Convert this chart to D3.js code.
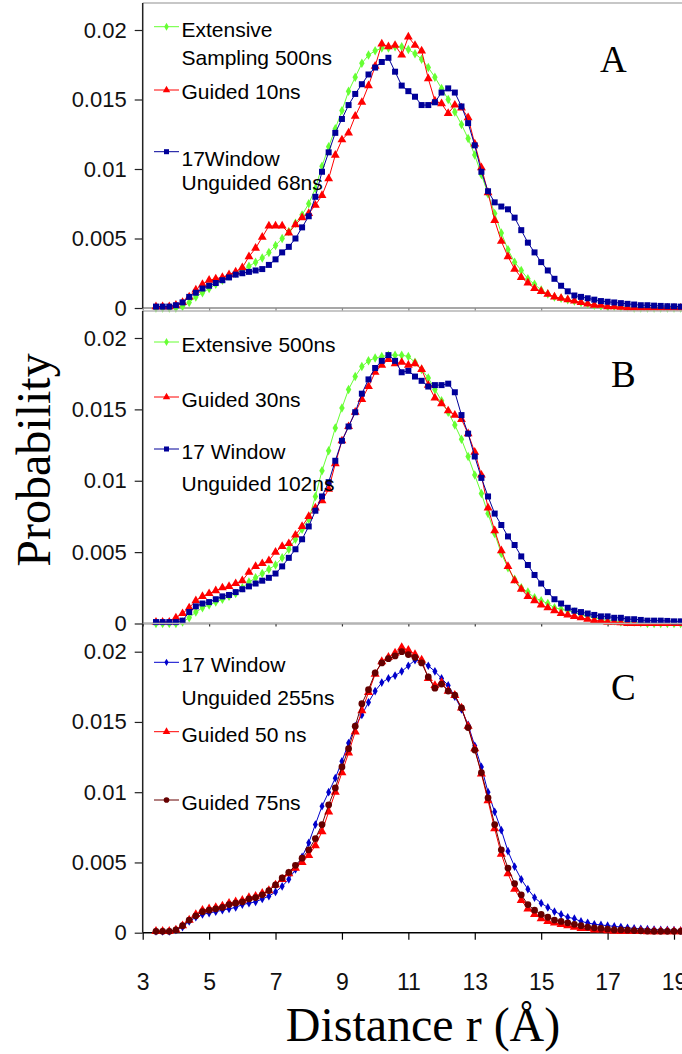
<!DOCTYPE html>
<html>
<head>
<meta charset="utf-8">
<script src="https://cdn.jsdelivr.net/npm/d3@7"></script>
<style>
  body { margin: 0; background: #fff; }
  svg { display: block; }
</style>
</head>
<body>
<div id="chart"></div>
<script>
// distance grid r (Å)
const distance = [
  3.4, 3.6, 3.8, 4.0, 4.2, 4.4, 4.6, 4.8, 5.0, 5.2,
  5.4, 5.6, 5.8, 6.0, 6.2, 6.4, 6.6, 6.8, 7.0, 7.2,
  7.4, 7.6, 7.8, 8.0, 8.2, 8.4, 8.6, 8.8, 9.0, 9.2,
  9.4, 9.6, 9.8, 10.0, 10.2, 10.4, 10.6, 10.8, 11.0, 11.2,
  11.4, 11.6, 11.8, 12.0, 12.2, 12.4, 12.6, 12.8, 13.0, 13.2,
  13.4, 13.6, 13.8, 14.0, 14.2, 14.4, 14.6, 14.8, 15.0, 15.2,
  15.4, 15.6, 15.8, 16.0, 16.2, 16.4, 16.6, 16.8, 17.0, 17.2,
  17.4, 17.6, 17.8, 18.0, 18.2, 18.4, 18.6, 18.8, 19.0, 19.2,
  19.4
];

// panel A
const extensive500A = [
  0, 0, 0, 0, 0.0001, 0.0004, 0.0008, 0.0011, 0.0014, 0.0017,
  0.0020, 0.0023, 0.0025, 0.0027, 0.0030, 0.0033, 0.0036, 0.0040, 0.0045, 0.0050,
  0.0055, 0.0061, 0.0067, 0.0075, 0.0086, 0.0102, 0.0116, 0.0129, 0.0142, 0.0156,
  0.0166, 0.0176, 0.0182, 0.0185, 0.0187, 0.0187, 0.0188, 0.0188, 0.0186, 0.0183,
  0.0179, 0.0173, 0.0166, 0.0158, 0.0150, 0.0141, 0.0132, 0.0122, 0.0110, 0.0096,
  0.0082, 0.0068, 0.0054, 0.0042, 0.0033, 0.0027, 0.0021, 0.0017, 0.0013, 0.0010,
  0.0008, 0.0007, 0.0006, 0.0005, 0.0004, 0.0003, 0.0002, 0.00015, 0.0001, 0.0001,
  0.00005, 0.00005, 0, 0, 0, 0, 0, 0, 0, 0,
  0
];
const guided10A = [
  0.0001, 0.0001, 0.0001, 0.0002, 0.0004, 0.0008, 0.0013, 0.0017, 0.0020, 0.0021,
  0.0022, 0.0024, 0.0026, 0.0029, 0.0037, 0.0043, 0.0051, 0.0059, 0.0059, 0.0059,
  0.0054, 0.0060, 0.0065, 0.0068, 0.0074, 0.0081, 0.0093, 0.0110, 0.0121, 0.0126,
  0.0138, 0.0148, 0.0160, 0.0174, 0.0190, 0.0188, 0.0189, 0.0182, 0.0195, 0.0189,
  0.0185, 0.0165, 0.0149, 0.0147, 0.0140, 0.0146, 0.0144, 0.0137, 0.0118, 0.0101,
  0.0083, 0.0063, 0.0048, 0.0037, 0.0028, 0.0022, 0.0018, 0.0014, 0.0012, 0.0010,
  0.0008, 0.0007, 0.0006, 0.0005, 0.0004, 0.0003, 0.0002, 0.0002, 0.0001, 0.0001,
  0.00005, 0, 0, 0, 0, 0, 0, 0, 0, 0,
  0
];
const window68A = [
  0.0001, 0.0001, 0.0001, 0.0002, 0.0004, 0.0008, 0.0011, 0.0014, 0.0016, 0.0018,
  0.0020, 0.0022, 0.0024, 0.0025, 0.0026, 0.0027, 0.0028, 0.0031, 0.0035, 0.0040,
  0.0044, 0.0050, 0.0058, 0.0066, 0.0080, 0.0098, 0.0112, 0.0126, 0.0136, 0.0146,
  0.0154, 0.0161, 0.0168, 0.0173, 0.0177, 0.0180, 0.0170, 0.0160, 0.0156, 0.0152,
  0.0146, 0.0146, 0.0148, 0.0155, 0.0158, 0.0155, 0.0145, 0.0133, 0.0117, 0.0098,
  0.0084, 0.0076, 0.0073, 0.0071, 0.0065, 0.0056, 0.0047, 0.0040, 0.0033, 0.0027,
  0.0021, 0.0016, 0.0012, 0.0009, 0.0008, 0.0007, 0.0006, 0.0005, 0.00045, 0.0004,
  0.00035, 0.0003, 0.00025, 0.0002, 0.0002, 0.00017, 0.00015, 0.00013, 0.00012, 0.0001,
  0.0001
];

// panel B
const extensive500B = [
  0, 0, 0, 0, 0.0001, 0.0004, 0.0008, 0.0011, 0.0013, 0.0015,
  0.0017, 0.0019, 0.0021, 0.0025, 0.0029, 0.0032, 0.0035, 0.0038, 0.0041, 0.0046,
  0.0052, 0.0059, 0.0066, 0.0073, 0.0089, 0.0107, 0.0121, 0.0137, 0.0151, 0.0164,
  0.0173, 0.0180, 0.0184, 0.0186, 0.0187, 0.0188, 0.0188, 0.0188, 0.0187, 0.0183,
  0.0178, 0.0172, 0.0164, 0.0156, 0.0148, 0.0139, 0.0129, 0.0117, 0.0104, 0.0091,
  0.0077, 0.0063, 0.0049, 0.0039, 0.0031, 0.0025, 0.0022, 0.0018, 0.0016, 0.0014,
  0.0011, 0.0010, 0.0009, 0.0008, 0.0006, 0.0005, 0.0004, 0.0003, 0.0002, 0.0002,
  0.0001, 0.0001, 0.0001, 0.00005, 0, 0, 0, 0, 0, 0,
  0
];
const guided30B = [
  0.0001, 0.0001, 0.0001, 0.0004, 0.0007, 0.0011, 0.0016, 0.0019, 0.0021, 0.0023,
  0.0025, 0.0026, 0.0028, 0.0030, 0.0036, 0.0040, 0.0042, 0.0044, 0.0050, 0.0054,
  0.0056, 0.0062, 0.0068, 0.0075, 0.0081, 0.0086, 0.0094, 0.0112, 0.0128, 0.0138,
  0.0148, 0.0157, 0.0166, 0.0176, 0.0181, 0.0185, 0.0182, 0.0183, 0.0181, 0.0182,
  0.0178, 0.0167, 0.0158, 0.0154, 0.0149, 0.0146, 0.0143, 0.0133, 0.0120, 0.0104,
  0.0081, 0.0065, 0.0051, 0.0040, 0.0030, 0.0024, 0.0019, 0.0016, 0.0013, 0.0011,
  0.0009, 0.0007, 0.0006, 0.0005, 0.0004, 0.0003, 0.0002, 0.0002, 0.0001, 0.0001,
  0.00005, 0, 0, 0, 0, 0, 0, 0, 0, 0,
  0
];
const window102B = [
  0.0001, 0.0001, 0.0001, 0.0001, 0.0002, 0.0008, 0.0012, 0.0014, 0.0015, 0.0017,
  0.0019, 0.0020, 0.0022, 0.0024, 0.0026, 0.0028, 0.0030, 0.0032, 0.0035, 0.0040,
  0.0046, 0.0052, 0.0059, 0.0068, 0.0079, 0.0089, 0.0099, 0.0114, 0.0128, 0.0138,
  0.0148, 0.0161, 0.0171, 0.0179, 0.0184, 0.0188, 0.0184, 0.0176, 0.0177, 0.0173,
  0.0170, 0.0166, 0.0167, 0.0167, 0.0168, 0.0162, 0.0146, 0.0133, 0.0117, 0.0102,
  0.0089, 0.0077, 0.0069, 0.0061, 0.0055, 0.0047, 0.0041, 0.0034, 0.0028, 0.0022,
  0.0017, 0.0014, 0.0011, 0.0009, 0.0008, 0.0007, 0.0006, 0.0005, 0.0005, 0.0004,
  0.0004, 0.0003, 0.0003, 0.00025, 0.0002, 0.0002, 0.0002, 0.00018, 0.00015, 0.00015,
  0.0001
];

// panel C
const window255C = [
  0.0001, 0.0001, 0.0001, 0.0002, 0.0004, 0.0008, 0.0011, 0.0013, 0.0014, 0.0015,
  0.0016, 0.0017, 0.0018, 0.0020, 0.0021, 0.0022, 0.0024, 0.0026, 0.0029, 0.0033,
  0.0038, 0.0045, 0.0054, 0.0064, 0.0077, 0.0090, 0.0100, 0.0110, 0.0122, 0.0135,
  0.0147, 0.0155, 0.0164, 0.0172, 0.0178, 0.0181, 0.0183, 0.0186, 0.0190, 0.0194,
  0.0193, 0.0190, 0.0186, 0.0181, 0.0176, 0.0168, 0.0159, 0.0148, 0.0133, 0.0118,
  0.0100, 0.0086, 0.0073, 0.0058, 0.0047, 0.0038, 0.0031, 0.0025, 0.0021, 0.0018,
  0.0015, 0.0013, 0.0011, 0.0010, 0.0008, 0.0007, 0.0006, 0.00055, 0.0005, 0.00045,
  0.0004, 0.00035, 0.0003, 0.00028, 0.00025, 0.00022, 0.0002, 0.0002, 0.00018, 0.00015,
  0.00015
];
const guided50C = [
  0.0001, 0.0001, 0.0001, 0.0002, 0.0005, 0.0009, 0.0013, 0.0016, 0.0017, 0.0018,
  0.0019, 0.0021, 0.0022, 0.0023, 0.0025, 0.0026, 0.0028, 0.0030, 0.0034, 0.0038,
  0.0042, 0.0046, 0.0050, 0.0055, 0.0062, 0.0072, 0.0086, 0.0100, 0.0114, 0.0128,
  0.0143, 0.0158, 0.0171, 0.0184, 0.0193, 0.0196, 0.0199, 0.0203, 0.0201, 0.0198,
  0.0194, 0.0181, 0.0176, 0.0178, 0.0172, 0.0169, 0.0160, 0.0147, 0.0131, 0.0113,
  0.0094, 0.0074, 0.0056, 0.0042, 0.0031, 0.0023, 0.0017, 0.0013, 0.0010, 0.0008,
  0.0007, 0.0006, 0.0005, 0.0004, 0.0003, 0.0003, 0.0002, 0.0002, 0.00015, 0.00012,
  0.0001, 0.0001, 0.0001, 0.0001, 0.00008, 0.00008, 0.00008, 0.00008, 0.00008, 0.00008,
  0.00008
];
const guided75C = [
  0.0001, 0.0001, 0.0001, 0.0002, 0.0005, 0.0009, 0.0012, 0.0015, 0.0016, 0.0017,
  0.0018, 0.0020, 0.0021, 0.0022, 0.0024, 0.0025, 0.0027, 0.0030, 0.0034, 0.0039,
  0.0043, 0.0048, 0.0053, 0.0059, 0.0067, 0.0077, 0.0091, 0.0103, 0.0118, 0.0131,
  0.0147, 0.0163, 0.0173, 0.0185, 0.0192, 0.0195, 0.0197, 0.0200, 0.0198, 0.0196,
  0.0192, 0.0182, 0.0174, 0.0177, 0.0172, 0.0169, 0.0160, 0.0146, 0.0130, 0.0114,
  0.0096, 0.0077, 0.0059, 0.0046, 0.0035, 0.0027, 0.0020, 0.0016, 0.0013, 0.0011,
  0.0009, 0.0008, 0.0007, 0.0006, 0.0005, 0.0004, 0.00035, 0.0003, 0.00025, 0.0002,
  0.0002, 0.00018, 0.00015, 0.00013, 0.00012, 0.0001, 0.0001, 0.0001, 0.0001, 0.0001,
  0.0001
];

const yTicks = [0, 0.005, 0.01, 0.015, 0.02];
const xTicks = [3, 5, 7, 9, 11, 13, 15, 17, 19];

const width = 682;
const height = 1054;
const sansFont = "'Liberation Sans', Arial, sans-serif";
const serifFont = "'Liberation Serif', 'Times New Roman', serif";

const svg = d3.select("#chart")
  .append("svg")
  .attr("width", width)
  .attr("height", height);

const x = d3.scaleLinear().domain([3, 19]).range([142.7, 674]);

const GREEN = "#66ff33", RED = "#ff0000", NAVY = "#000099", BLUE = "#0000cc", MAROON = "#660000";

const panels = [
  {
    letter: "A", top: 3, zeroY: 308, topTickY: 30, axisColor: "#8a8a8a", letterPos: [600, 72],
    series: [
      { values: extensive500A, color: GREEN, symbol: d3.symbolDiamond, size: 26, label: ["Extensive", "Sampling 500ns"], legendY: 26.7, textY: [36.7, 64.5] },
      { values: guided10A, color: RED, symbol: d3.symbolTriangle, size: 34, label: ["Guided 10ns"], legendY: 90, textY: [98.5] },
      { values: window68A, color: NAVY, symbol: d3.symbolSquare, size: 36, label: ["17Window", "Unguided 68ns"], legendY: 151.7, textY: [166, 190] }
    ]
  },
  {
    letter: "B", top: 311, zeroY: 623.5, topTickY: 338, axisColor: "#333", letterPos: [611, 387],
    series: [
      { values: extensive500B, color: GREEN, symbol: d3.symbolDiamond, size: 26, label: ["Extensive 500ns"], legendY: 342, textY: [351.7] },
      { values: guided30B, color: RED, symbol: d3.symbolTriangle, size: 34, label: ["Guided 30ns"], legendY: 397, textY: [406.7] },
      { values: window102B, color: NAVY, symbol: d3.symbolSquare, size: 36, label: ["17 Window", "Unguided 102ns"], legendY: 449, textY: [459, 490.7] }
    ]
  },
  {
    letter: "C", top: 623.5, zeroY: 932.7, topTickY: 651.7, axisColor: "#000", letterPos: [611, 700], bottom: true,
    series: [
      { values: window255C, color: BLUE, symbol: d3.symbolDiamond, size: 22, label: ["17 Window", "Unguided 255ns"], legendY: 662.3, textY: [672.3, 705] },
      { values: guided50C, color: RED, symbol: d3.symbolTriangle, size: 36, label: ["Guided 50 ns"], legendY: 731.7, textY: [741.7] },
      { values: guided75C, color: MAROON, symbol: d3.symbolCircle, size: 36, label: ["Guided 75ns"], legendY: 800, textY: [810] }
    ]
  }
];

panels.forEach((p) => {
  const y = d3.scaleLinear().domain([0, 0.02]).range([p.zeroY, p.topTickY]);
  const g = svg.append("g");

  // top border of plot area
  g.append("line")
    .attr("x1", x(3)).attr("x2", width)
    .attr("y1", p.top).attr("y2", p.top)
    .attr("stroke", "#b4b4b4").attr("stroke-width", 1.3);

  // x axis
  const xAxis = d3.axisBottom(x)
    .tickValues(xTicks)
    .tickSizeOuter(0)
    .tickSize(p.bottom ? 7 : 3)
    .tickPadding(34)
    .tickFormat(p.bottom ? d3.format("d") : "");
  const gx = g.append("g")
    .attr("transform", `translate(0,${p.zeroY})`)
    .call(xAxis);
  gx.select(".domain").attr("stroke", p.axisColor).attr("stroke-width", 1.5)
    .attr("d", `M${x(3)},0H${width}`);
  gx.selectAll(".tick line").attr("stroke", p.axisColor).attr("stroke-width", 1.2);
  gx.selectAll("text")
    .attr("font-family", sansFont).attr("font-size", 23).attr("fill", "#111");

  // y axis
  const yAxis = d3.axisLeft(y)
    .tickValues(yTicks)
    .tickSizeOuter(0)
    .tickSize(8)
    .tickPadding(8)
    .tickFormat((d) => String(+d.toFixed(3)));
  const gy = g.append("g")
    .attr("transform", `translate(${x(3)},0)`)
    .call(yAxis);
  gy.select(".domain").attr("stroke", "#222").attr("stroke-width", 1.5)
    .attr("d", `M0,${p.top}V${p.zeroY}`);
  gy.selectAll(".tick line").attr("stroke", "#222").attr("stroke-width", 1.2);
  gy.selectAll("text")
    .attr("font-family", sansFont).attr("font-size", 22).attr("fill", "#111");

  // series
  p.series.forEach((s) => {
    const pts = distance.map((r, i) => [r, s.values[i]]);
    const line = d3.line().x((d) => x(d[0])).y((d) => y(d[1]));
    g.append("path")
      .datum(pts)
      .attr("d", line)
      .attr("fill", "none")
      .attr("stroke", s.color)
      .attr("stroke-width", 1);
    g.append("g")
      .selectAll("path")
      .data(pts)
      .join("path")
      .attr("transform", (d) => `translate(${x(d[0])},${y(d[1])})`)
      .attr("d", d3.symbol().type(s.symbol).size(s.size))
      .attr("fill", s.color);
  });

  // legend
  p.series.forEach((s) => {
    const lg = g.append("g");
    lg.append("line")
      .attr("x1", 154).attr("x2", 179)
      .attr("y1", s.legendY).attr("y2", s.legendY)
      .attr("stroke", s.color).attr("stroke-width", 1);
    lg.append("path")
      .attr("transform", `translate(166.5,${s.legendY})`)
      .attr("d", d3.symbol().type(s.symbol).size(s.size * 0.7))
      .attr("fill", s.color);
    s.label.forEach((t, i) => {
      lg.append("text")
        .attr("x", 181.5).attr("y", s.textY[i])
        .attr("font-family", sansFont).attr("font-size", 21)
        .attr("fill", "#000")
        .text(t);
    });
  });

  // panel letter
  g.append("text")
    .attr("x", p.letterPos[0]).attr("y", p.letterPos[1])
    .attr("font-family", serifFont).attr("font-size", 37)
    .attr("fill", "#000")
    .text(p.letter);
});

// axis titles
svg.append("text")
  .attr("transform", "translate(50,460) rotate(-90)")
  .attr("text-anchor", "middle")
  .attr("font-family", serifFont).attr("font-size", 48)
  .text("Probability");

svg.append("text")
  .attr("x", 423).attr("y", 1041)
  .attr("text-anchor", "middle")
  .attr("font-family", serifFont).attr("font-size", 48)
  .text("Distance r (Å)");
</script>
</body>
</html>
